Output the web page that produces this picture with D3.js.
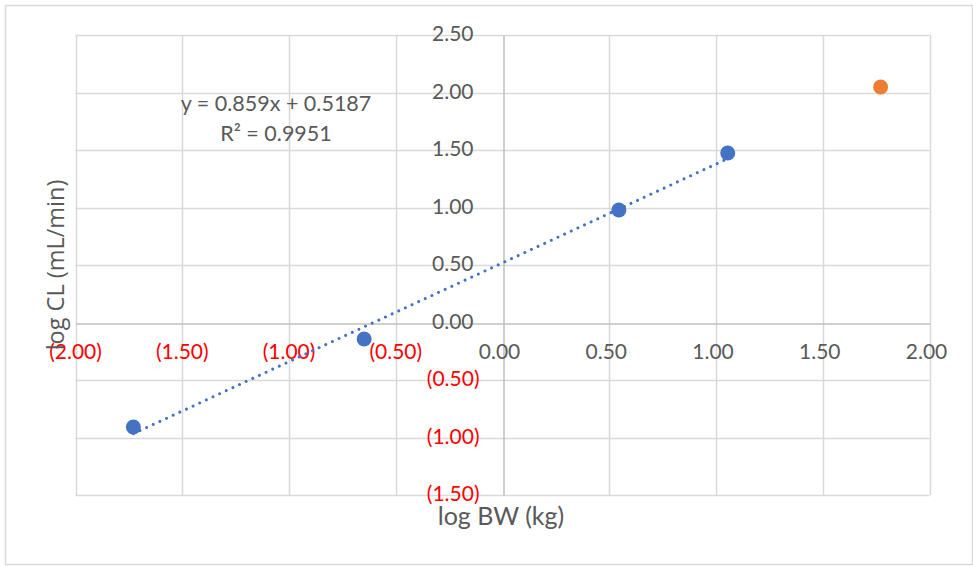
<!DOCTYPE html>
<html>
<head>
<meta charset="utf-8">
<script src="https://cdn.jsdelivr.net/npm/d3@7"></script>
<style>
  html, body { margin: 0; padding: 0; background: #fff; }
  svg { display: block; }
</style>
</head>
<body>
<svg id="chart" width="973" height="566"></svg>
<script>
// ---- data ----
const seriesX = [-1.729, -0.648, 0.545, 1.055];   // log BW (kg), blue points
const seriesY = [-0.909, -0.143, 0.978, 1.474];   // log CL (mL/min)
const outlierX = [1.771];                          // orange point
const outlierY = [2.048];
const trendSlope = 0.859;
const trendIntercept = 0.5187;
const equationText = "y = 0.859x + 0.5187";
const r2Text = "R² = 0.9951";
const xTicks = [-2, -1.5, -1, -0.5, 0, 0.5, 1, 1.5, 2];
const yTicks = [-1.5, -1, -0.5, 0, 0.5, 1, 1.5, 2, 2.5];
const xTitle = "log BW (kg)";
const yTitle = "log CL (mL/min)";

// ---- layout ----
const svg = d3.select("#chart");
const pL = 75.5, pR = 929.5, pT = 35, pB = 495;
const x = d3.scaleLinear().domain([-2, 2]).range([pL, pR]);
const y = d3.scaleLinear().domain([-1.5, 2.5]).range([pB, pT]);

const fmt = v => v < 0 ? "(" + d3.format(".2f")(-v) + ")" : d3.format(".2f")(v);
const labelColor = v => v < 0 ? "#ff0000" : "#595959";
const tickFont = "Lato, 'Open Sans', sans-serif";

// outer border
svg.append("rect")
  .attr("x", 5.5).attr("y", 5.5).attr("width", 967).attr("height", 559)
  .attr("fill", "#fff").attr("stroke", "#d9d9d9").attr("stroke-width", 1.5);

// gridlines
const grid = svg.append("g");
grid.selectAll("line.v").data(xTicks.filter(d => d !== 0)).join("line")
  .attr("x1", d => Math.round(x(d)) + 0.5).attr("x2", d => Math.round(x(d)) + 0.5)
  .attr("y1", pT).attr("y2", pB)
  .attr("stroke", "#d9d9d9").attr("stroke-width", 1.5);
grid.selectAll("line.h").data(yTicks.filter(d => d !== 0)).join("line")
  .attr("y1", d => Math.round(y(d)) + 0.5).attr("y2", d => Math.round(y(d)) + 0.5)
  .attr("x1", pL).attr("x2", pR)
  .attr("stroke", "#d9d9d9").attr("stroke-width", 1.5);

// axis lines (through zero)
const xAxis = d3.axisBottom(x).tickValues(xTicks).tickSize(0).tickFormat("");
const yAxis = d3.axisLeft(y).tickValues(yTicks).tickSize(0).tickFormat("");
svg.append("g").attr("transform", `translate(0,${Math.round(y(0)) + 0.5})`).call(xAxis)
  .call(g => g.select(".domain").attr("stroke", "#bfbfbf").attr("stroke-width", 1.5));
svg.append("g").attr("transform", `translate(${Math.round(x(0)) + 0.5},0)`).call(yAxis)
  .call(g => g.select(".domain").attr("stroke", "#bfbfbf").attr("stroke-width", 1.5));

// x tick labels
svg.append("g").selectAll("text").data(xTicks).join("text")
  .attr("x", d => x(d) - (d >= 0 ? 3 : 0))
  .attr("y", y(0) + 31)
  .attr("text-anchor", "middle")
  .attr("dominant-baseline", "middle")
  .attr("font-family", tickFont).attr("font-size", 21)
  .attr("fill", labelColor)
  .text(fmt);

// y tick labels
svg.append("g").selectAll("text").data(yTicks).join("text")
  .attr("x", d => x(0) - 23 - (d >= 0 ? 6 : 0))
  .attr("y", d => y(d) + 1)
  .attr("text-anchor", "end")
  .attr("dominant-baseline", "middle")
  .attr("font-family", tickFont).attr("font-size", 21)
  .attr("fill", labelColor)
  .text(fmt);

// trendline
const xExt = d3.extent(seriesX);
const trend = xExt.map(v => [v, trendSlope * v + trendIntercept]);
svg.append("path")
  .attr("d", d3.line().x(d => x(d[0])).y(d => y(d[1]))(trend))
  .attr("fill", "none").attr("stroke", "#4472c4")
  .attr("stroke-width", 3).attr("stroke-linecap", "round")
  .attr("stroke-dasharray", "0.01 7.3");

// points
svg.append("g").selectAll("circle").data(seriesX.map((v, i) => [v, seriesY[i]])).join("circle")
  .attr("cx", d => x(d[0])).attr("cy", d => y(d[1])).attr("r", 7.5)
  .attr("fill", "#4472c4");
svg.append("g").selectAll("circle").data(outlierX.map((v, i) => [v, outlierY[i]])).join("circle")
  .attr("cx", d => x(d[0])).attr("cy", d => y(d[1])).attr("r", 7.5)
  .attr("fill", "#ed7d31");

// trendline label
svg.append("text").attr("x", 276).attr("y", 106)
  .attr("text-anchor", "middle").attr("dominant-baseline", "middle")
  .attr("font-family", tickFont).attr("font-size", 21.5).attr("fill", "#595959")
  .text(equationText);
svg.append("text").attr("x", 276).attr("y", 136)
  .attr("text-anchor", "middle").attr("dominant-baseline", "middle")
  .attr("font-family", tickFont).attr("font-size", 21.5).attr("fill", "#595959")
  .text(r2Text);

// axis titles
svg.append("text").attr("x", 501).attr("y", 519)
  .attr("text-anchor", "middle").attr("dominant-baseline", "middle")
  .attr("font-family", tickFont).attr("font-size", 25).attr("fill", "#595959")
  .text(xTitle);
svg.append("text")
  .attr("transform", `translate(58,265) rotate(-90)`)
  .attr("text-anchor", "middle").attr("dominant-baseline", "middle")
  .attr("font-family", "'Open Sans', sans-serif").attr("font-size", 23.5).attr("fill", "#595959")
  .text(yTitle);
</script>
</body>
</html>
